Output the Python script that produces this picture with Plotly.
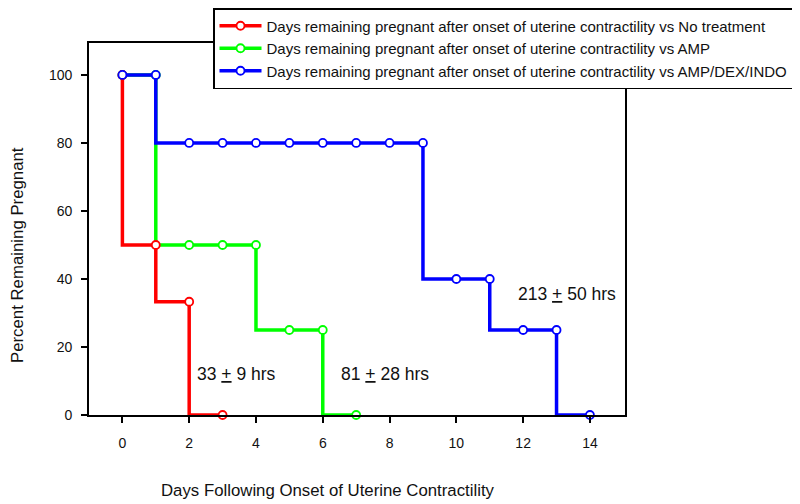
import plotly.graph_objects as go

# Kaplan-Meier style data: day, percent remaining pregnant
none_days = [0, 1, 2, 3]
none_pct = [100, 50, 33.3, 0]

amp_days = [0, 1, 2, 3, 4, 5, 6, 7]
amp_pct = [100, 100, 50, 50, 50, 25, 25, 0]

combo_days = [0, 1, 2, 3, 4, 5, 6, 7, 8, 9, 10, 11, 12, 13, 14]
combo_pct = [100, 100, 80, 80, 80, 80, 80, 80, 80, 80, 40, 40, 25, 25, 0]

series_names = [
    "Days remaining pregnant after onset of uterine contractility vs No treatment",
    "Days remaining pregnant after onset of uterine contractility vs AMP",
    "Days remaining pregnant after onset of uterine contractility vs AMP/DEX/INDO",
]
series_colors = ["#FF0000", "#00FF00", "#0000FF"]

notes = ["33 <u>+</u> 9 hrs", "81 <u>+</u> 28 hrs", "213 <u>+</u> 50 hrs"]
note_x = [2.16, 6.48, 11.8]
note_y = [12.1, 12.1, 35.6]

FONT = "Liberation Sans, Arial, sans-serif"

# plot area in page pixels (the html body adds an 8px margin)
PL, PR, PT, PB = 89, 625, 43, 415
PW, PH = PR - PL, PB - PT

fig = go.Figure()

# green first so red sits on top of it, legend order fixed with legendrank
order = [(1, amp_days, amp_pct), (0, none_days, none_pct), (2, combo_days, combo_pct)]
for i, xs, ys in order:
    fig.add_trace(
        go.Scatter(
            x=xs,
            y=ys,
            mode="lines+markers",
            name=series_names[i],
            legendrank=i + 1,
            line=dict(color=series_colors[i], width=3.5, shape="vh"),
            marker=dict(
                size=8,
                color="white",
                line=dict(color=series_colors[i], width=1.8)
            ),
            cliponaxis=False
        )
    )

for t, x, y in zip(notes, note_x, note_y):
    fig.add_annotation(
        x=x, y=y, text=t, showarrow=False,
        xanchor="left", yanchor="middle",
        font=dict(size=17.5, color="#111", family=FONT)
    )

# axis titles placed as annotations (not centred on the plot area)
fig.add_annotation(
    xref="paper", yref="paper", x=(328 - PL) / PW, y=(PB - 490) / PH,
    text="Days Following Onset of Uterine Contractility", showarrow=False,
    xanchor="center", yanchor="middle",
    font=dict(size=16.8, color="#111", family=FONT)
)
fig.add_annotation(
    xref="paper", yref="paper", x=(18 - PL) / PW, y=(PB - 255) / PH,
    text="Percent Remaining Pregnant", showarrow=False, textangle=-90,
    xanchor="center", yanchor="middle",
    font=dict(size=16.8, color="#111", family=FONT)
)

fig.update_layout(
    width=792,
    height=496,
    margin=dict(l=PL - 8, r=792 - (PR - 8), t=PT - 8, b=496 - (PB - 8),
                autoexpand=False),
    paper_bgcolor="white",
    plot_bgcolor="white",
    font=dict(family=FONT, size=14, color="#111"),
    showlegend=True,
    legend=dict(
        x=(213 - PL) / PW,
        y=(PB - 8) / PH,
        xanchor="left",
        yanchor="top",
        bgcolor="white",
        bordercolor="black",
        borderwidth=1.5,
        itemwidth=42,
        font=dict(size=15, family=FONT, color="#111"),
        tracegroupgap=0
    ),
    xaxis=dict(
        range=[-1, 15.05],
        tickvals=[0, 2, 4, 6, 8, 10, 12, 14],
        ticks="outside",
        ticklen=6,
        tickwidth=1.5,
        tickcolor="black",
        showline=True,
        linecolor="black",
        linewidth=1.8,
        mirror=True,
        showgrid=False,
        zeroline=False,
        ticklabelstandoff=8
    ),
    yaxis=dict(
        range=[0, 109.4],
        tickvals=[0, 20, 40, 60, 80, 100],
        ticks="outside",
        ticklen=6,
        tickwidth=1.5,
        tickcolor="black",
        showline=True,
        linecolor="black",
        linewidth=1.8,
        mirror=True,
        showgrid=False,
        zeroline=False,
        ticklabelstandoff=6
    )
)

fig.write_html("out.html")
